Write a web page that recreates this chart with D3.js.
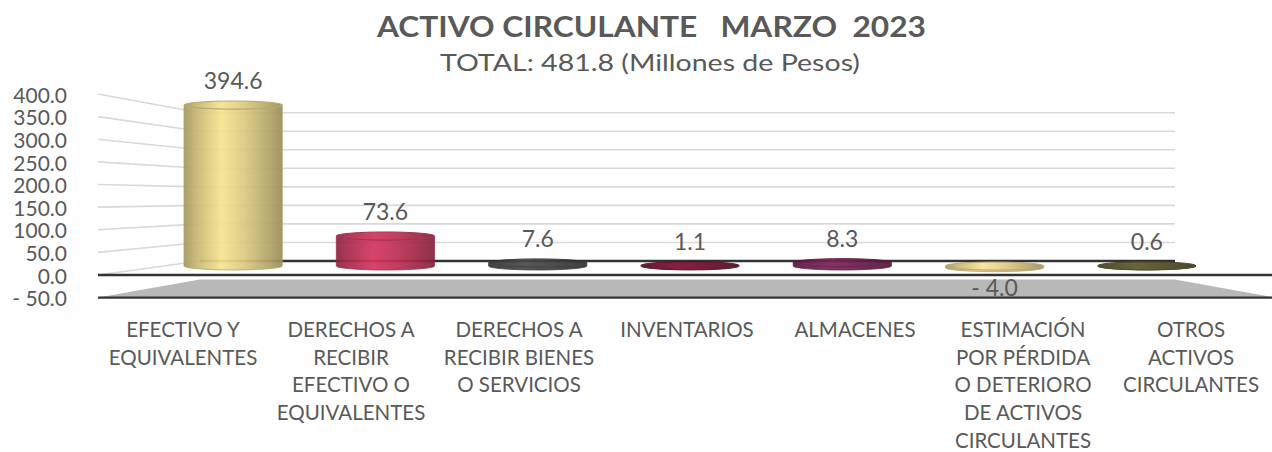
<!DOCTYPE html>
<html><head><meta charset="utf-8">
<script src="https://cdn.jsdelivr.net/npm/d3@7"></script>
<style>
html,body{margin:0;padding:0;background:#fff;}
svg{display:block;font-family:Lato,"Open Sans",sans-serif;}
</style></head><body>
<svg id="chart" width="1272" height="452"></svg>
<script>
// ---- data ----
const categories = [
  "EFECTIVO Y\nEQUIVALENTES",
  "DERECHOS A\nRECIBIR\nEFECTIVO O\nEQUIVALENTES",
  "DERECHOS A\nRECIBIR BIENES\nO SERVICIOS",
  "INVENTARIOS",
  "ALMACENES",
  "ESTIMACIÓN\nPOR PÉRDIDA\nO DETERIORO\nDE ACTIVOS\nCIRCULANTES",
  "OTROS\nACTIVOS\nCIRCULANTES"
];
const values = [394.6, 73.6, 7.6, 1.1, 8.3, -4.0, 0.6];
const yTicks = [-50, 0, 50, 100, 150, 200, 250, 300, 350, 400];
const titleText = "ACTIVO CIRCULANTE   MARZO  2023";
const subtitleText = "TOTAL: 481.8 (Millones de Pesos)";

// ---- styles ----
const palette = ["#d2c27a", "#b52c50", "#3e3e3e", "#6a0d2a", "#6a1c4c", "#d6c17f", "#4f4a25"];
const textColor = "#595959";

const svg = d3.select("#chart");
const fmt = v => v < 0 ? "- " + d3.format(".1f")(-v) : d3.format(".1f")(v);

// scales (3D projection approximated with front / back / bar-depth planes)
const yFront = d3.scaleLinear().domain([-50, 400]).range([297.6, 94]);
const yBack  = d3.scaleLinear().domain([-50, 400]).range([279.5, 112.7]);
const yMid   = d3.scaleLinear().domain([-50, 400]).range([286.4, 102.8]);
const xFront = d3.scaleBand().domain(categories).range([99, 1275]);
const xBar   = d3.scaleBand().domain(categories).range([157, 1223]).paddingInner(0.355).paddingOuter(0.1775);
const backL = 200, backR = 1175, frontL = 98, frontR = 1275;

// gridlines: back wall + left wall
const gridVals = yTicks.filter(v => v > 0);
svg.append("g").selectAll("line.gb").data(gridVals).join("line")
  .attr("x1", backL).attr("x2", backR)
  .attr("y1", d => yBack(d)).attr("y2", d => yBack(d))
  .attr("stroke", "#d9d9d9").attr("stroke-width", 1.6);
svg.append("g").selectAll("line.gl").data(yTicks.filter(v => v >= 0)).join("line")
  .attr("x1", frontL).attr("x2", backL)
  .attr("y1", d => yFront(d)).attr("y2", d => yBack(d))
  .attr("stroke", "#d9d9d9").attr("stroke-width", 1.6);

// floor at -50 (gray)
const y0 = yTicks[0];
svg.append("path")
  .attr("d", `M${backL},${yBack(y0)} L${backR},${yBack(y0)} L${frontR},${yFront(y0)} L${frontL},${yFront(y0)} Z`)
  .attr("fill", "#b8b8b8");
// back zero line
svg.append("line").attr("x1", backL).attr("x2", backR).attr("y1", yBack(0)).attr("y2", yBack(0))
  .attr("stroke", "#333").attr("stroke-width", 2.4);

// gradients
const defs = svg.append("defs");
palette.forEach((c, i) => {
  const base = d3.color(c);
  const g = defs.append("linearGradient").attr("id", "grad" + i).attr("x1", 0).attr("x2", 1).attr("y1", 0).attr("y2", 0);
  [[0, base.darker(0.7)], [0.12, base.darker(0.2)], [0.38, base.brighter(0.45)], [0.62, base.brighter(0.1)], [0.88, base.darker(0.5)], [1, base.darker(0.9)]]
    .forEach(([o, col]) => g.append("stop").attr("offset", o).attr("stop-color", col.formatHex()));
});

// cylinders
const bw = xBar.bandwidth(), rx = bw / 2, ry = 4;
const barData = values.map((v, i) => ({ v, i, c: categories[i] }));
const bars = svg.append("g").selectAll("g.bar").data(barData).join("g").attr("opacity", 0.92);
bars.append("path")
  .attr("d", d => {
    const xc = xBar(d.c) + rx, yt = yMid(Math.max(d.v, 0)), yb = yMid(Math.min(d.v, 0));
    return `M${xc - rx},${yt} L${xc - rx},${yb} A${rx},${ry} 0 0 0 ${xc + rx},${yb} L${xc + rx},${yt} A${rx},${ry} 0 0 1 ${xc - rx},${yt} Z`;
  })
  .attr("fill", d => `url(#grad${d.i})`)
  .attr("stroke", d => d3.color(palette[d.i]).darker(0.6))
  .attr("stroke-width", 0.8);
bars.append("ellipse")
  .attr("cx", d => xBar(d.c) + rx)
  .attr("cy", d => yMid(Math.max(d.v, 0)))
  .attr("rx", rx).attr("ry", ry)
  .attr("fill", d => `url(#grad${d.i})`)
  .attr("stroke", d => d3.color(palette[d.i]).darker(0.5))
  .attr("stroke-width", 1);

// front lines
[0, y0].forEach(v => {
  svg.append("line").attr("x1", frontL).attr("x2", frontR).attr("y1", yFront(v)).attr("y2", yFront(v))
    .attr("stroke", "#333").attr("stroke-width", 2.4);
});

// data labels
svg.append("g").selectAll("text").data(barData).join("text")
  .attr("x", d => xBar(d.c) + rx)
  .attr("y", d => d.v >= 0 ? yMid(d.v) - 16 : yMid(d.v) + 28)
  .attr("text-anchor", "middle")
  .attr("font-size", 23).attr("fill", textColor)
  .text(d => fmt(d.v));

// y axis
const yAxis = svg.append("g").attr("transform", "translate(67,1.5)")
  .call(d3.axisLeft(yFront).tickValues(yTicks).tickFormat(fmt).tickSize(0).tickPadding(0));
yAxis.select(".domain").remove();
yAxis.selectAll("text").attr("font-size", 21).attr("fill", textColor).attr("font-family", "Lato");

// x axis (category labels)
const xAxis = svg.append("g").attr("transform", "translate(0,337)")
  .call(d3.axisBottom(xFront).tickSize(0).tickFormat(() => ""));
xAxis.select(".domain").remove();
xAxis.selectAll(".tick text").each(function (d) {
  const t = d3.select(this).attr("y", 0).attr("dy", null)
    .attr("font-size", 20.5).attr("fill", textColor).attr("font-family", "Lato");
  d.split("\n").forEach((line, k) => {
    t.append("tspan").attr("x", 0).attr("dy", k === 0 ? 0 : 27.7).text(line);
  });
});

// titles
svg.append("text").attr("x", 651.5).attr("y", 37).attr("text-anchor", "middle")
  .attr("font-size", 29).attr("font-weight", "bold").attr("fill", textColor)
  .attr("textLength", 549).attr("lengthAdjust", "spacingAndGlyphs")
  .style("white-space", "pre").text(titleText);
svg.append("text").attr("x", 650).attr("y", 71).attr("text-anchor", "middle")
  .attr("font-size", 24).attr("fill", textColor)
  .attr("textLength", 420).attr("lengthAdjust", "spacingAndGlyphs")
  .text(subtitleText);
</script>
</body></html>
